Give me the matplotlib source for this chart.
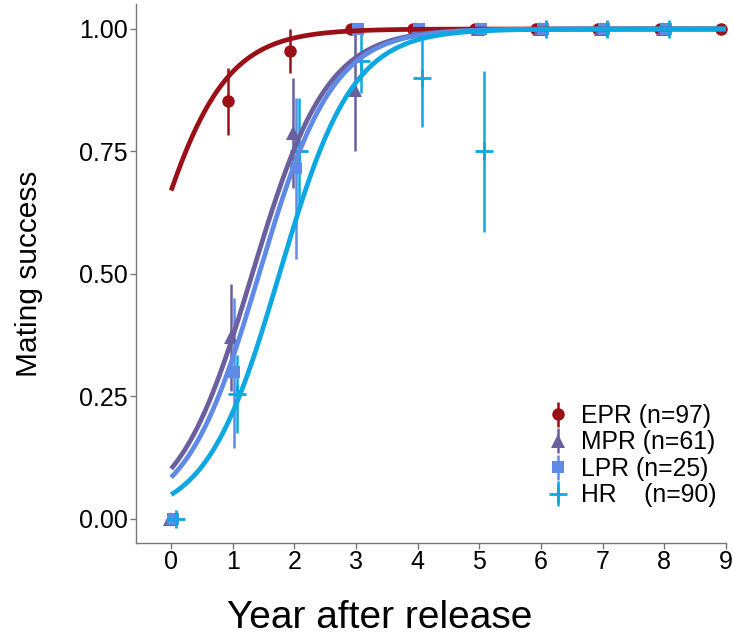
import numpy as np
import matplotlib.pyplot as plt

plt.rcParams['font.family'] = ['Liberation Sans', 'DejaVu Sans']

# groups, legend labels and styles
groups = ['EPR', 'MPR', 'LPR', 'HR']
labels = ['EPR (n=97)', 'MPR (n=61)', 'LPR (n=25)', 'HR    (n=90)']
colors = ['#9b1016', '#6a5f9f', '#5f8ae6', '#0ba8e2']
markers = ['o', '^', 's', '+']
msizes = [9, 10, 8, 13]
dodge = [-0.075, -0.025, 0.025, 0.075]

# observed mating success per year after release (mean, lower, upper)
epr_year = [1, 2, 3, 4, 5, 6, 7, 8, 9]
epr_mean = [0.853, 0.955, 1.0, 1.0, 1.0, 1.0, 1.0, 1.0, 1.0]
epr_low = [0.783, 0.91, 1.0, 1.0, 1.0, 1.0, 1.0, 1.0, 1.0]
epr_high = [0.92, 1.0, 1.0, 1.0, 1.0, 1.0, 1.0, 1.0, 1.0]

mpr_year = [0, 1, 2, 3, 4, 5, 6, 7, 8]
mpr_mean = [0.0, 0.37, 0.787, 0.875, 1.0, 1.0, 1.0, 1.0, 1.0]
mpr_low = [0.0, 0.26, 0.675, 0.75, 1.0, 1.0, 1.0, 1.0, 1.0]
mpr_high = [0.0, 0.48, 0.90, 1.0, 1.0, 1.0, 1.0, 1.0, 1.0]

lpr_year = [0, 1, 2, 3, 4, 5, 6, 7, 8]
lpr_mean = [0.0, 0.30, 0.715, 1.0, 1.0, 1.0, 1.0, 1.0, 1.0]
lpr_low = [0.0, 0.145, 0.53, 1.0, 1.0, 1.0, 1.0, 1.0, 1.0]
lpr_high = [0.0, 0.45, 0.86, 1.0, 1.0, 1.0, 1.0, 1.0, 1.0]

hr_year = [0, 1, 2, 3, 4, 5, 6, 7, 8]
hr_mean = [0.0, 0.255, 0.75, 0.935, 0.90, 0.75, 1.0, 1.0, 1.0]
hr_low = [0.0, 0.175, 0.63, 0.87, 0.80, 0.585, 1.0, 1.0, 1.0]
hr_high = [0.0, 0.335, 0.86, 1.0, 1.0, 0.915, 1.0, 1.0, 1.0]

years = [epr_year, mpr_year, lpr_year, hr_year]
means = [epr_mean, mpr_mean, lpr_mean, hr_mean]
lows = [epr_low, mpr_low, lpr_low, hr_low]
highs = [epr_high, mpr_high, lpr_high, hr_high]

# logistic fit coefficients (intercept, slope)
fit_b0 = [0.708, -2.18, -2.39, -2.97]
fit_b1 = [1.64, 1.656, 1.676, 1.69]

fig = plt.figure(figsize=(7.33, 6.35), dpi=100)
ax = fig.add_axes([136 / 733, 92 / 635, 590 / 733, 630.5 / 635 - 92 / 635])

handles = []
for i in range(4):
    x = np.array(years[i]) + dodge[i]
    m = np.array(means[i])
    err = [m - np.array(lows[i]), np.array(highs[i]) - m]
    h = ax.errorbar(x, m, yerr=err, fmt=markers[i], color=colors[i],
                    ms=msizes[i], mew=2 if markers[i] == '+' else 0,
                    elinewidth=1.8, capsize=0, clip_on=False, zorder=2)
    handles.append(h)

xs = np.linspace(0, 9, 300)
for i in range(4):
    p = 1 / (1 + np.exp(-(fit_b0[i] + fit_b1[i] * xs)))
    ax.plot(xs, p, color=colors[i], lw=3.4, solid_capstyle='butt',
            clip_on=False, zorder=3)

ax.set_xlim(-0.57, 9.0)
ax.set_ylim(-0.05, 1.05)
ax.set_xticks(range(10))
ax.set_yticks([0, 0.25, 0.5, 0.75, 1.0])
ax.set_yticklabels(['0.00', '0.25', '0.50', '0.75', '1.00'])
for s in ['top', 'right']:
    ax.spines[s].set_visible(False)
for s in ['left', 'bottom']:
    ax.spines[s].set_color('#777777')
    ax.spines[s].set_linewidth(1.0)
ax.tick_params(colors='#777777', labelcolor='black', labelsize=18,
               length=4, width=1.0, pad=2)
ax.tick_params(axis='x', pad=1)

ax.set_ylabel('Mating success', fontsize=21.5, labelpad=26)
fig.text(380 / 733, 1 - 618 / 635, 'Year after release', fontsize=28,
         ha='center', va='center')

ax.legend(handles, labels, loc='upper left',
          bbox_to_anchor=(546 / 733, 1 - 404 / 635),
          bbox_transform=fig.transFigure, frameon=False, fontsize=17.8,
          handlelength=1.0, handletextpad=0.4, labelspacing=0.1,
          borderpad=0, borderaxespad=0)

fig.savefig('out.png', dpi=100)
